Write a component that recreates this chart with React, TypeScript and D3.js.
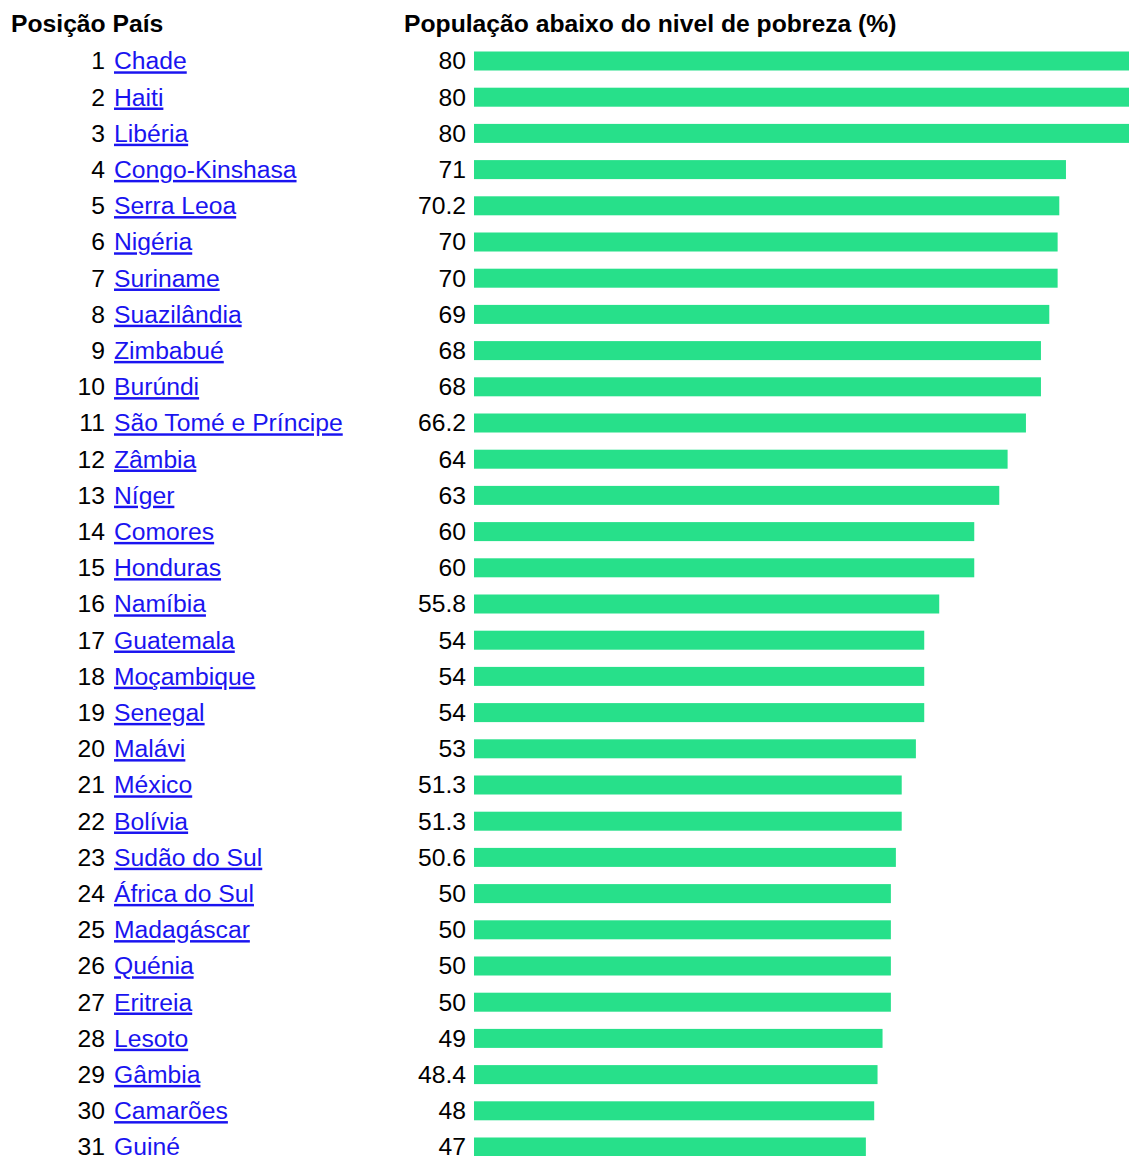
import React, { useEffect, useRef } from 'react';
import * as d3 from 'd3';

const countries = [
  'Chade', 'Haiti', 'Libéria', 'Congo-Kinshasa', 'Serra Leoa', 'Nigéria', 'Suriname',
  'Suazilândia', 'Zimbabué', 'Burúndi', 'São Tomé e Príncipe', 'Zâmbia', 'Níger',
  'Comores', 'Honduras', 'Namíbia', 'Guatemala', 'Moçambique', 'Senegal', 'Malávi',
  'México', 'Bolívia', 'Sudão do Sul', 'África do Sul', 'Madagáscar', 'Quénia',
  'Eritreia', 'Lesoto', 'Gâmbia', 'Camarões', 'Guiné'
];

const poverty = [
  80, 80, 80, 71, 70.2, 70, 70, 69, 68, 68, 66.2, 64, 63, 60, 60, 55.8, 54, 54, 54, 53,
  51.3, 51.3, 50.6, 50, 50, 50, 50, 49, 48.4, 48, 47
];

const headerRank = 'Posição';
const headerCountry = 'País';
const headerValue = 'População abaixo do nivel de pobreza (%)';

const W = 1129;
const H = 1156;
const FONT = '"Liberation Sans", Arial, Helvetica, sans-serif';
const FS = 24.7;

export default function App() {
  const svgRef = useRef<SVGSVGElement>(null);

  useEffect(() => {
    if (!svgRef.current) return;
    const svg = d3.select(svgRef.current);
    svg.selectAll('*').remove();

    const data = countries.map((c, i) => ({ rank: i + 1, country: c, value: poverty[i] }));

    // row centres
    const y = d3.scalePoint<number>()
      .domain(data.map(d => d.rank))
      .range([61, 1147]);

    // bars start at 474, 0 is the left edge, longest bars run off the frame
    const x = d3.scaleLinear()
      .domain([0, 80])
      .range([474, 1141]);

    const barH = 19;
    const dy = 8.3;

    // headers
    svg.append('text')
      .attr('x', 11)
      .attr('y', 32)
      .attr('font-family', FONT)
      .attr('font-size', FS)
      .attr('font-weight', 'bold')
      .attr('fill', '#000')
      .text(`${headerRank} ${headerCountry}`);

    svg.append('text')
      .attr('x', 404)
      .attr('y', 32)
      .attr('font-family', FONT)
      .attr('font-size', FS)
      .attr('font-weight', 'bold')
      .attr('fill', '#000')
      .text(headerValue);

    const rows = svg.append('g')
      .selectAll('g')
      .data(data)
      .enter()
      .append('g');

    rows.append('text')
      .attr('x', 105)
      .attr('y', d => y(d.rank)! + dy)
      .attr('text-anchor', 'end')
      .attr('font-family', FONT)
      .attr('font-size', FS)
      .attr('fill', '#000')
      .text(d => d.rank);

    rows.append('text')
      .attr('x', 114)
      .attr('y', d => y(d.rank)! + dy)
      .attr('font-family', FONT)
      .attr('font-size', FS)
      .attr('fill', '#1a14f0')
      .style('text-decoration', 'underline')
      .text(d => d.country);

    rows.append('text')
      .attr('x', 466)
      .attr('y', d => y(d.rank)! + dy)
      .attr('text-anchor', 'end')
      .attr('font-family', FONT)
      .attr('font-size', FS)
      .attr('fill', '#000')
      .text(d => String(d.value));

    rows.append('rect')
      .attr('x', x(0))
      .attr('y', d => y(d.rank)! - barH / 2)
      .attr('width', d => x(d.value) - x(0))
      .attr('height', barH)
      .attr('fill', '#27e08a');
  }, []);

  return (
    <svg
      ref={svgRef}
      width={W}
      height={H}
      style={{ position: 'absolute', left: 0, top: 0, background: '#fff' }}
    />
  );
}
